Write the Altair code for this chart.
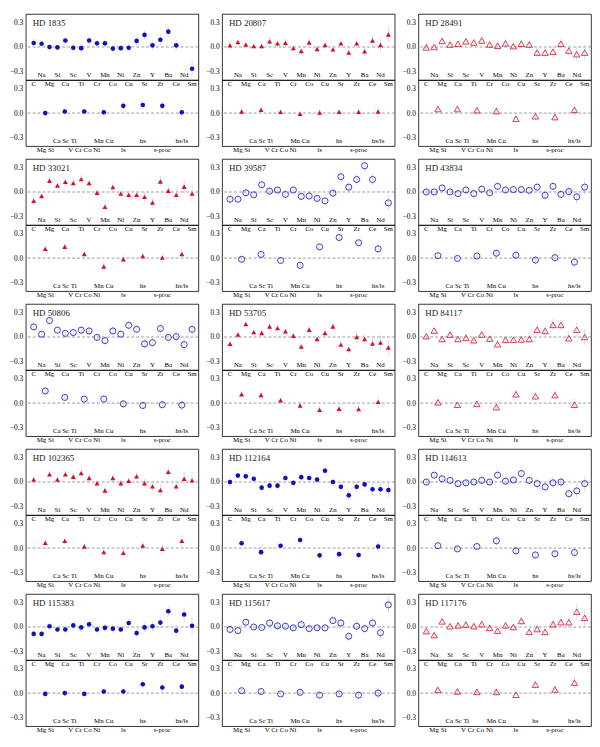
import altair as alt
import pandas as pd
import numpy as np

ELEMENTS = ["C", "Na", "Mg", "Si", "Ca", "Sc", "Ti", "V", "Cr", "Mn", "Co",
            "Ni", "Cu", "Zn", "Sr", "Y", "Zr", "Ba", "Ce", "Nd", "Sm"]
GROUPS = ["Mg Si", "Ca Sc Ti", "V Cr Co Ni", "Mn Cu", "ls", "hs", "s-proc", "hs/ls"]

EL_ERR = [0.05, 0.03, 0.04, 0.03, 0.04, 0.05, 0.05, 0.05, 0.04, 0.05, 0.05,
          0.04, 0.05, 0.05, 0.06, 0.06, 0.07, 0.06, 0.07, 0.09, 0.10]
GRP_ERR = [0.04, 0.04, 0.03, 0.05, 0.05, 0.05, 0.05, 0.07]

STARS = ["HD 1835", "HD 20807", "HD 28491",
         "HD 33021", "HD 39587", "HD 43834",
         "HD 50806", "HD 53705", "HD 84117",
         "HD 102365", "HD 112164", "HD 114613",
         "HD 115383", "HD 115617", "HD 117176"]
SYMBOLS = ["blue-filled", "red-filled", "red-open",
           "red-filled", "blue-open", "blue-open",
           "blue-open", "red-filled", "red-open",
           "red-filled", "blue-filled", "blue-open",
           "blue-filled", "blue-open", "red-open"]

hd1835_el = [0.05, 0.04, 0.0, -0.005, 0.08, -0.01, -0.015, 0.08, 0.045, 0.045, -0.02,
             -0.015, -0.01, 0.075, 0.15, 0.02, 0.09, 0.19, 0.02, None, -0.27]
hd1835_grp = [0.0, 0.02, 0.02, 0.01, 0.09, 0.10, 0.09, 0.01]

hd20807_el = [0.02, 0.06, 0.03, 0.01, 0.01, 0.07, 0.045, 0.05, -0.015, -0.05, 0.055,
              -0.025, 0.025, -0.03, 0.045, -0.07, 0.045, -0.055, 0.08, 0.025, 0.155]
hd20807_grp = [0.02, 0.04, 0.015, -0.01, 0.005, 0.015, 0.015, 0.02]

hd28491_el = [-0.005, 0.0, 0.075, 0.03, 0.04, 0.07, 0.055, 0.08, 0.03, 0.015, 0.045,
              0.01, 0.04, 0.03, -0.07, -0.07, -0.06, 0.04, -0.045, -0.09, -0.07]
hd28491_grp = [0.05, 0.05, 0.035, 0.025, -0.07, -0.04, -0.05, 0.04]

hd33021_el = [-0.11, -0.05, 0.14, 0.08, 0.125, 0.11, 0.16, 0.11, -0.01, -0.185, 0.06,
              -0.02, -0.035, -0.035, -0.06, -0.13, 0.13, 0.015, -0.035, 0.065, -0.02]
hd33021_grp = [0.115, 0.14, 0.05, -0.105, -0.015, 0.025, 0.005, 0.05]

hd39587_el = [-0.09, -0.09, -0.01, -0.035, 0.09, 0.01, 0.025, -0.03, 0.025, -0.055, -0.05,
              -0.08, -0.11, -0.015, 0.19, 0.06, 0.155, 0.325, 0.155, None, -0.135]
hd39587_grp = [-0.015, 0.045, -0.03, -0.09, 0.14, 0.255, 0.19, 0.115]

hd43834_el = [0.0, 0.0, 0.05, 0.0, -0.02, 0.025, -0.02, 0.035, -0.01, 0.07, 0.025,
              0.03, 0.03, 0.02, 0.06, -0.04, 0.07, -0.03, 0.005, -0.06, 0.06]
hd43834_grp = [0.03, -0.005, 0.025, 0.06, 0.035, -0.025, 0.005, -0.05]

hd50806_el = [0.125, 0.035, 0.205, 0.085, 0.045, 0.055, 0.085, 0.075, -0.005, -0.045, 0.075,
              0.035, 0.145, 0.095, -0.085, -0.07, 0.105, -0.005, 0.005, -0.095, 0.095]
hd50806_grp = [0.15, 0.07, 0.05, 0.05, -0.01, -0.03, -0.02, -0.025]

hd53705_el = [-0.085, 0.03, 0.16, 0.06, 0.05, 0.13, 0.11, 0.07, 0.015, -0.12, 0.09,
              -0.025, 0.05, 0.13, -0.095, -0.15, 0.0, -0.025, -0.08, -0.07, -0.13]
hd53705_grp = [0.11, 0.10, 0.035, -0.03, -0.085, -0.07, -0.075, 0.015]

hd84117_el = [0.01, 0.08, -0.025, 0.03, -0.025, -0.01, -0.04, 0.03, -0.02, -0.09, -0.035,
              -0.035, -0.03, -0.025, 0.09, 0.075, 0.15, 0.15, -0.015, 0.09, 0.0]
hd84117_grp = [0.01, -0.02, -0.01, -0.05, 0.11, 0.085, 0.10, -0.02]

hd102365_el = [0.03, None, 0.095, 0.03, 0.095, 0.065, 0.11, 0.05, -0.015, -0.105, 0.05,
               -0.015, 0.015, 0.07, -0.015, -0.055, -0.10, 0.125, -0.055, 0.04, 0.02]
hd102365_grp = [0.065, 0.09, 0.02, -0.05, -0.06, 0.03, -0.01, 0.09]

hd112164_el = [0.0, 0.08, 0.07, 0.04, -0.07, -0.045, -0.045, 0.05, -0.01, 0.06, 0.05,
               0.03, 0.14, 0.0, -0.06, -0.165, -0.06, -0.03, -0.09, -0.09, -0.10]
hd112164_grp = [0.06, -0.05, 0.03, 0.10, -0.09, -0.075, -0.085, 0.02]

hd114613_el = [0.0, 0.085, 0.04, 0.02, -0.02, -0.01, 0.0, 0.02, 0.0, 0.085, 0.01,
               0.025, 0.105, 0.02, -0.02, -0.06, -0.01, 0.0, -0.145, -0.11, -0.02]
hd114613_grp = [0.03, -0.01, 0.02, 0.09, -0.035, -0.085, -0.07, -0.055]

hd115383_el = [-0.085, -0.085, 0.01, -0.03, -0.03, 0.02, -0.005, 0.035, -0.03, -0.01, -0.02,
               -0.03, 0.05, -0.075, -0.005, 0.01, 0.055, 0.195, -0.045, 0.155, 0.015]
hd115383_grp = [-0.01, 0.0, -0.01, 0.02, 0.02, 0.11, 0.07, 0.08]

hd115617_el = [-0.03, -0.045, 0.06, 0.0, -0.005, 0.05, 0.015, 0.01, -0.01, 0.03, -0.02,
               -0.01, -0.01, 0.08, 0.05, -0.115, 0.01, -0.02, 0.05, -0.07, 0.275]
hd115617_grp = [0.03, 0.02, -0.01, 0.01, -0.025, -0.01, -0.025, 0.0]

hd117176_el = [-0.05, -0.10, 0.07, 0.01, 0.02, 0.03, 0.01, 0.035, -0.01, -0.045, 0.02,
               0.0, 0.075, -0.06, -0.025, -0.06, 0.035, 0.06, 0.06, 0.19, 0.115]
hd117176_grp = [0.04, 0.02, 0.015, 0.015, -0.02, 0.105, 0.045, 0.13]

EL_DATA = [hd1835_el, hd20807_el, hd28491_el, hd33021_el, hd39587_el, hd43834_el,
           hd50806_el, hd53705_el, hd84117_el, hd102365_el, hd112164_el, hd114613_el,
           hd115383_el, hd115617_el, hd117176_el]
GRP_DATA = [hd1835_grp, hd20807_grp, hd28491_grp, hd33021_grp, hd39587_grp, hd43834_grp,
            hd50806_grp, hd53705_grp, hd84117_grp, hd102365_grp, hd112164_grp, hd114613_grp,
            hd115383_grp, hd115617_grp, hd117176_grp]

BLUE = "#1212b8"
RED = "#d0142e"
W, H = 175, 67
YDOM = [-0.41, 0.41]
FONT = "Liberation Serif"
EL_XDOM = [0, 21.8]
GRP_XDOM = [0, 8.85]


def yenc(field):
    return alt.Y(f"{field}:Q",
                 scale=alt.Scale(domain=YDOM, nice=False, zero=False),
                 axis=alt.Axis(values=[-0.3, 0.0, 0.3], format=".1f", title=None,
                               grid=False, ticks=False, domain=False,
                               labelFontSize=7.5, labelFont=FONT, labelPadding=3,
                               labelColor="black"))


def xenc(field, dom):
    return alt.X(f"{field}:Q", scale=alt.Scale(domain=dom, nice=False, zero=False), axis=None)


def point_mark(sym):
    color = BLUE if sym.startswith("blue") else RED
    shape = "circle" if sym.startswith("blue") else "triangle-up"
    if sym.endswith("filled"):
        return dict(shape=shape, filled=True, color=color, opacity=1,
                    size=22 if shape == "circle" else 26)
    return dict(shape=shape, filled=False, color=color, opacity=1, strokeWidth=0.8,
                size=38 if shape == "circle" else 42)


def sub_layers(values, errs, names, dom, sym):
    df = pd.DataFrame({"pos": np.arange(1, len(names) + 1), "name": names,
                       "val": pd.to_numeric(pd.Series(values, dtype="float")), "err": errs})
    df["lo"] = df["val"] - df["err"]
    df["hi"] = df["val"] + df["err"]
    pts = df.dropna(subset=["val"])
    zero = alt.Chart(pd.DataFrame({"val": [0.0]})).mark_rule(
        color="#707070", strokeDash=[3, 2], strokeWidth=0.7).encode(y=yenc("val"))
    err = alt.Chart(pts).mark_rule(color="#cccccc", strokeWidth=0.7).encode(
        x=xenc("pos", dom), y=yenc("lo"), y2="hi")
    mk = alt.Chart(pts).mark_point(**point_mark(sym)).encode(x=xenc("pos", dom), y=yenc("val"))
    return zero, err, mk


def label_layer(names, dom, which, yval):
    pos = [i + 1 for i in range(len(names)) if (i % 2) == which]
    nm = [names[i - 1] for i in pos]
    df = pd.DataFrame({"pos": pos, "name": nm, "val": [yval] * len(pos)})
    return alt.Chart(df).mark_text(fontSize=7, font=FONT, baseline="middle", color="black").encode(
        x=xenc("pos", dom), y=yenc("val"), text="name:N")


def panel(k):
    star = STARS[k]
    sym = SYMBOLS[k]
    z, e, m = sub_layers(EL_DATA[k], EL_ERR, ELEMENTS, EL_XDOM, sym)
    inside = label_layer(ELEMENTS, EL_XDOM, 1, -0.35)
    title = alt.Chart(pd.DataFrame({"t": [star]})).mark_text(
        align="left", baseline="middle", fontSize=9, font=FONT, color="#222222").encode(
        x=alt.value(7), y=alt.value(9), text="t:N")
    top = alt.layer(z, e, m, inside, title).properties(width=W, height=H)

    z2, e2, m2 = sub_layers(GRP_DATA[k], GRP_ERR, GROUPS, GRP_XDOM, sym)
    g_in = label_layer(GROUPS, GRP_XDOM, 1, -0.345)
    g_out = label_layer(GROUPS, GRP_XDOM, 0, -0.46)
    el_out = label_layer(ELEMENTS, EL_XDOM, 0, 0.362)
    bottom = alt.layer(z2, e2, m2, g_in, g_out, el_out).resolve_scale(
        x="independent").properties(width=W, height=H)
    return alt.vconcat(top, bottom, spacing=0, bounds="flush")


rows = [alt.hconcat(*[panel(r * 3 + c) for c in range(3)], spacing=5) for r in range(5)]
chart = alt.vconcat(*rows, spacing=4).properties(padding=0).configure(
    background="white",
    view=alt.ViewConfig(stroke="black", strokeWidth=0.8),
)

chart.save("out.html", embed_options={"renderer": "svg", "actions": False})
